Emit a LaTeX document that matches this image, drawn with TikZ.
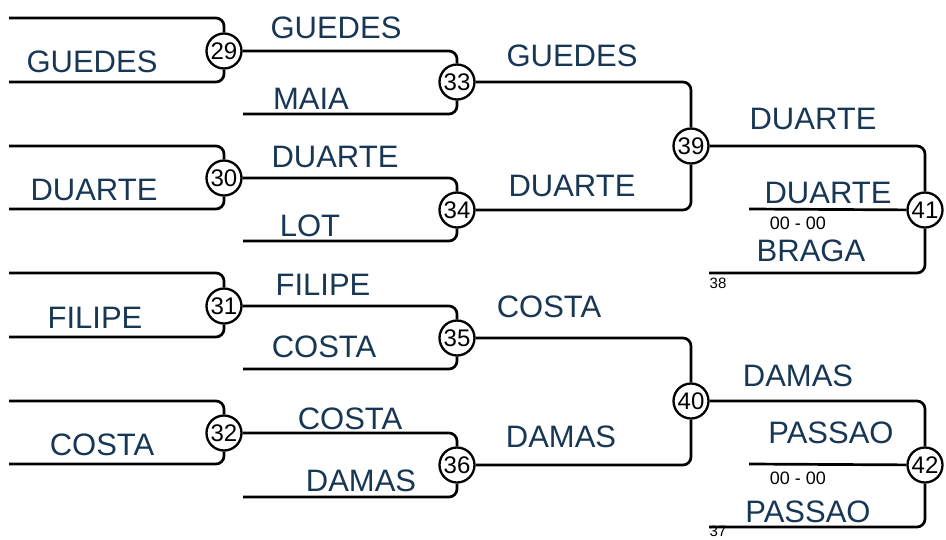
\documentclass[tikz,border=0pt]{standalone}
\usepackage{fontspec}
\setmainfont{Liberation Sans}
\definecolor{navy}{RGB}{24,55,85}
\tikzset{
  ln/.style={line width=2.7pt, rounded corners=8pt},
  mnode/.style={circle, draw, line width=2.3pt, minimum size=35pt, inner sep=0pt, fill=white, font=\fontsize{24}{24}\selectfont},
  playername/.style={inner sep=0pt, text=navy, font=\fontsize{31}{31}\selectfont},
  scoretext/.style={inner sep=0pt, font=\fontsize{18}{18}\selectfont},
  seedtext/.style={inner sep=0pt, font=\fontsize{15}{15}\selectfont}
}
\begin{document}
\begin{tikzpicture}[x=1pt,y=-1pt]
\useasboundingbox (0,0) rectangle (946,539);
% match nodes
\node[mnode] (m29) at (224,51) {29};
\node[mnode] (m30) at (224,178) {30};
\node[mnode] (m31) at (224,306) {31};
\node[mnode] (m32) at (224,433) {32};
\node[mnode] (m33) at (457,82) {33};
\node[mnode] (m34) at (457,210) {34};
\node[mnode] (m35) at (457,338) {35};
\node[mnode] (m36) at (457,465) {36};
\node[mnode] (m39) at (691,146) {39};
\node[mnode] (m40) at (691,401) {40};
\node[mnode] (m41) at (925,210) {41};
\node[mnode] (m42) at (925,465) {42};
% line ends
\coordinate (t29) at (9,18);   \coordinate (b29) at (9,82);
\coordinate (t30) at (9,146);  \coordinate (b30) at (9,209);
\coordinate (t31) at (9,273);  \coordinate (b31) at (9,337);
\coordinate (t32) at (9,401);  \coordinate (b32) at (9,464);
\coordinate (b33) at (243,114);
\coordinate (b34) at (243,241);
\coordinate (b35) at (243,369);
\coordinate (b36) at (243,497);
\coordinate (c41) at (749,209); \coordinate (b41) at (709,273);
\coordinate (c42) at (749,464); \coordinate (b42) at (709,527);
% round 1
\draw[ln] (t29) -| (m29); \draw[ln] (b29) -| (m29);
\draw[ln] (t30) -| (m30); \draw[ln] (b30) -| (m30);
\draw[ln] (t31) -| (m31); \draw[ln] (b31) -| (m31);
\draw[ln] (t32) -| (m32); \draw[ln] (b32) -| (m32);
% round 2
\draw[ln] (m29) -| (m33); \draw[ln] (b33) -| (m33);
\draw[ln] (m30) -| (m34); \draw[ln] (b34) -| (m34);
\draw[ln] (m31) -| (m35); \draw[ln] (b35) -| (m35);
\draw[ln] (m32) -| (m36); \draw[ln] (b36) -| (m36);
% round 3
\draw[ln] (m33) -| (m39); \draw[ln] (m34) -| (m39);
\draw[ln] (m35) -| (m40); \draw[ln] (m36) -| (m40);
% round 4
\draw[ln] (m39) -| (m41); \draw[ln] (b41) -| (m41); \draw[ln] (c41) -- (m41);
\draw[ln] (m40) -| (m42); \draw[ln] (b42) -| (m42); \draw[ln] (c42) -- (m42);
% names
\node[playername] (n1) at (92,62) {GUEDES};
\node[playername] (n2) at (94,190) {DUARTE};
\node[playername] (n3) at (95,318) {FILIPE};
\node[playername] (n4) at (102,445) {COSTA};
\node[playername] (n5) at (336,28) {GUEDES};
\node[playername] (n6) at (311,99) {MAIA};
\node[playername] (n7) at (335,157) {DUARTE};
\node[playername] (n8) at (310,226) {LOT};
\node[playername] (n9) at (323,285) {FILIPE};
\node[playername] (n10) at (324,347) {COSTA};
\node[playername] (n11) at (350,419) {COSTA};
\node[playername] (n12) at (361,481) {DAMAS};
\node[playername] (n13) at (572,56) {GUEDES};
\node[playername] (n14) at (572,186) {DUARTE};
\node[playername] (n15) at (549,307) {COSTA};
\node[playername] (n16) at (561,437) {DAMAS};
\node[playername] (n17) at (813,119) {DUARTE};
\node[playername] (n18) at (828,193) {DUARTE};
\node[playername] (n19) at (811,251) {BRAGA};
\node[playername] (n20) at (798,376) {DAMAS};
\node[playername] (n21) at (831,433) {PASSAO};
\node[playername] (n22) at (808,512) {PASSAO};
\node[scoretext] (s41) at (798,223) {00 - 00};
\node[scoretext] (s42) at (798,478) {00 - 00};
\node[seedtext] (d38) at (718,283) {38};
\node[seedtext] (d37) at (718,531) {37};
\end{tikzpicture}
\end{document}
